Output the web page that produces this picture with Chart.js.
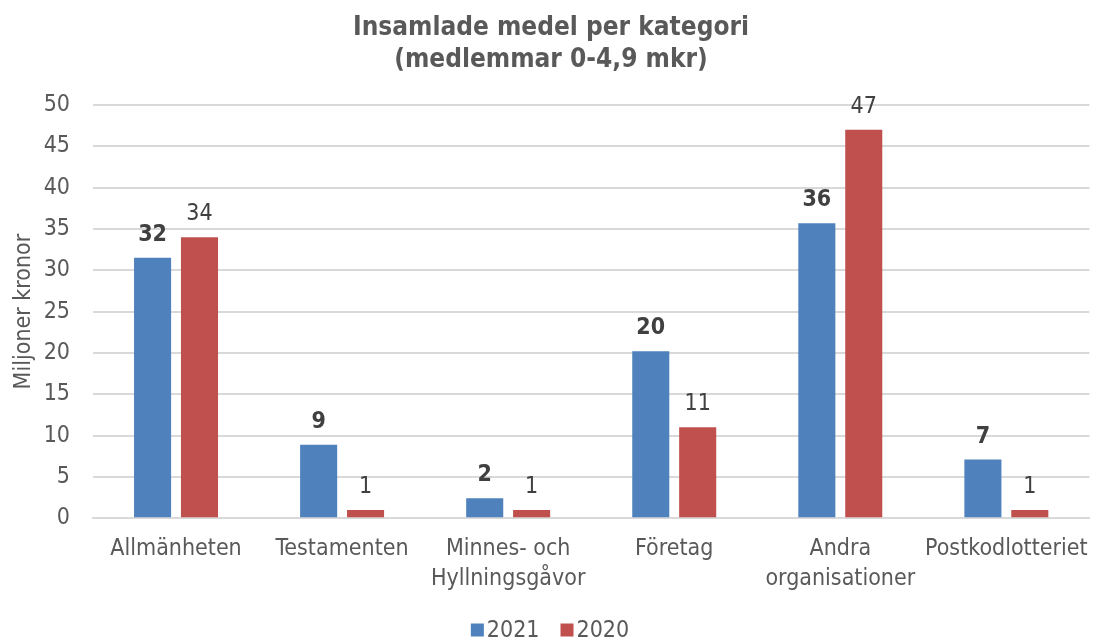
<!DOCTYPE html>
<html>
<head>
<meta charset="utf-8">
<script src="https://cdn.jsdelivr.net/npm/chart.js@4/dist/chart.umd.min.js"></script>
<style>
  html, body { margin: 0; padding: 0; background: #fff; }
  #wrap { width: 1096px; height: 641px; }
</style>
</head>
<body>
<div id="wrap"><canvas id="chart" width="1096" height="641"></canvas></div>
<script>
const categories = ['Allmänheten', 'Testamenten', ['Minnes- och', 'Hyllningsgåvor'], 'Företag', ['Andra', 'organisationer'], 'Postkodlotteriet'];
const values2021 = [31.5, 8.9, 2.4, 20.2, 35.7, 7.1];
const values2020 = [34, 1, 1, 11, 47, 1];
const yTicks = [0, 5, 10, 15, 20, 25, 30, 35, 40, 45, 50];

const FONT = "'DejaVu Sans Condensed', 'DejaVu Sans', sans-serif";
const TEXT = '#595959';

// value labels above each bar (rounded to whole millions)
const barLabels = {
    id: 'barLabels',
    afterDatasetsDraw(chart) {
        const ctx = chart.ctx;
        ctx.save();
        ctx.textAlign = 'center';
        ctx.textBaseline = 'alphabetic';
        chart.data.datasets.forEach((ds, i) => {
            const meta = chart.getDatasetMeta(i);
            ctx.font = (ds.labelBold ? 'bold ' : '') + '23px ' + FONT;
            ctx.fillStyle = '#404040';
            meta.data.forEach((el, j) => {
                ctx.fillText(Math.round(ds.data[j]), el.x, el.y - 17);
            });
        });
        ctx.restore();
    }
};

// compact legend at the bottom: square swatch, small gap, series name
const bottomLegend = {
    id: 'bottomLegend',
    afterDraw(chart) {
        const ctx = chart.ctx;
        const box = 13, gap = 3, spacing = 21, y = 630;
        ctx.save();
        ctx.font = '23px ' + FONT;
        ctx.textBaseline = 'middle';
        ctx.textAlign = 'left';
        const items = chart.data.datasets.map(ds => ({
            text: ds.label, color: ds.backgroundColor, w: ctx.measureText(ds.label).width
        }));
        let total = items.reduce((s, it) => s + box + gap + it.w, 0) + spacing * (items.length - 1);
        let x = chart.width / 2 - total / 2 + 2;
        items.forEach(it => {
            ctx.fillStyle = it.color;
            ctx.fillRect(x, y - box / 2, box, box);
            ctx.fillStyle = TEXT;
            ctx.fillText(it.text, x + box + gap, y + 1);
            x += box + gap + it.w + spacing;
        });
        ctx.restore();
    }
};

new Chart(document.getElementById('chart'), {
    type: 'bar',
    data: {
        labels: categories,
        datasets: [
            { label: '2021', data: values2021, backgroundColor: '#4F81BD', labelBold: true,
              categoryPercentage: 0.565, barPercentage: 0.79 },
            { label: '2020', data: values2020, backgroundColor: '#C0504D', labelBold: false,
              categoryPercentage: 0.565, barPercentage: 0.79 }
        ]
    },
    options: {
        responsive: false,
        animation: false,
        layout: { padding: { left: 10, right: 4, top: 4, bottom: 39 } },
        plugins: {
            title: {
                display: true,
                text: ['Insamlade medel per kategori', '(medlemmar 0-4,9 mkr)'],
                color: TEXT,
                font: { family: FONT, size: 26, weight: 'bold', lineHeight: 1.23 },
                padding: { top: 8, bottom: 29 }
            },
            legend: { display: false },
            tooltip: { enabled: false }
        },
        scales: {
            x: {
                grid: { display: false },
                border: { color: '#D9D9D9', width: 2 },
                ticks: {
                    color: TEXT,
                    font: { family: FONT, size: 23, lineHeight: 1.3 },
                    maxRotation: 0,
                    autoSkip: false,
                    padding: 8
                }
            },
            y: {
                min: 0,
                max: 50,
                afterBuildTicks: s => { s.ticks = yTicks.map(v => ({ value: v })); },
                afterFit: s => { s.width = 83; },
                grid: { color: '#D9D9D9', lineWidth: 2, drawTicks: false },
                border: { display: false },
                ticks: {
                    color: TEXT,
                    font: { family: FONT, size: 23 },
                    padding: 23
                },
                title: {
                    display: true,
                    text: 'Miljoner kronor',
                    color: TEXT,
                    font: { family: FONT, size: 23 },
                    padding: 0
                }
            }
        }
    },
    plugins: [barLabels, bottomLegend]
});
</script>
</body>
</html>
